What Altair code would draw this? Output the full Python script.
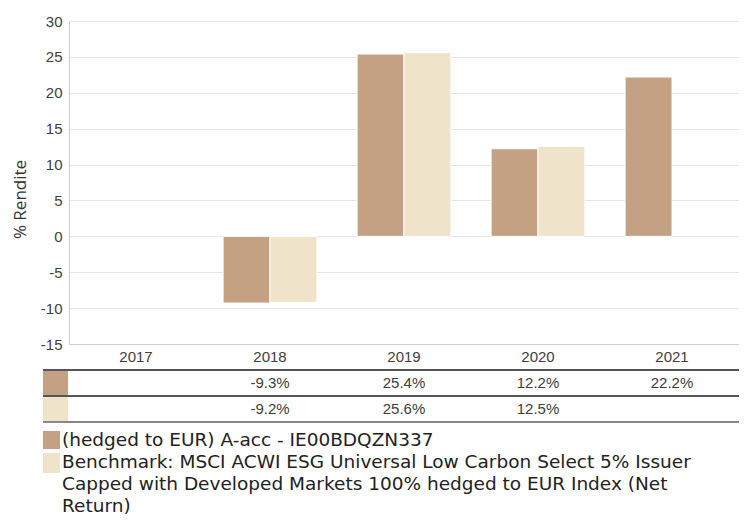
import altair as alt
import pandas as pd

years = ["2017", "2018", "2019", "2020", "2021"]
fund = [None, -9.3, 25.4, 12.2, 22.2]
bench = [None, -9.2, 25.6, 12.5, None]
series_names = ["(hedged to EUR) A-acc - IE00BDQZN337",
                "Benchmark: MSCI ACWI ESG Universal Low Carbon Select 5% Issuer\nCapped with Developed Markets 100% hedged to EUR Index (Net\nReturn)"]
series_keys = ["Fonds", "Benchmark"]
colors = ["#C4A182", "#EFE3C9"]

rows = []
for i, y in enumerate(years):
    for key, vals in zip(series_keys, [fund, bench]):
        v = vals[i]
        if v is not None:
            rows.append({"year": y, "series": key, "value": v, "label": f"{v:.1f}%"})
df = pd.DataFrame(rows)

AX = "Liberation Sans"
LF = "DejaVu Sans"
TXT = "#404040"
W = 670
H = 323

xscale = alt.Scale(domain=years, paddingInner=0.3, paddingOuter=0.15)
cscale = alt.Scale(domain=series_keys, range=colors)

base = alt.Chart(df)

bars = base.mark_bar(stroke="white", strokeWidth=1).encode(
    x=alt.X("year:N", scale=xscale, sort=years,
            axis=alt.Axis(title=None, labelAngle=0, ticks=False, labelFont=AX,
                          labelFontSize=15, labelColor=TXT, labelPadding=5,
                          domainColor="#cccccc", grid=False)),
    xOffset=alt.XOffset("series:N", sort=series_keys, scale=alt.Scale(paddingInner=0, paddingOuter=0)),
    y=alt.Y("value:Q", scale=alt.Scale(domain=[-15, 30], nice=False),
            axis=alt.Axis(values=list(range(-15, 31, 5)), title="% Rendite", ticks=False,
                          labelExpr="toString(datum.value)",
                          labelFont=AX, labelFontSize=15, labelColor=TXT, labelPadding=7,
                          domainColor="#cccccc", gridColor="#e6e6e6",
                          titleFont="Open Sans", titleFontSize=17, titleFontWeight="normal",
                          titleColor="#333333", titleAngle=270, titleX=-49, titleY=178,
                          titleAlign="center", titleBaseline="middle")),
    color=alt.Color("series:N", scale=cscale, legend=None),
)

one = alt.Chart(pd.DataFrame({"k": [0]}))

layers = [bars]
# table lines
for yy, col, w in [(349, "#555555", 2), (375, "#555555", 2), (401, "#888888", 2)]:
    layers.append(one.mark_rule(color=col, strokeWidth=w).encode(
        x=alt.value(-26), x2=alt.value(W), y=alt.value(yy)))
# table swatches
for i, (y1, y2) in enumerate([(350, 374), (376, 400)]):
    layers.append(one.mark_rect(color=colors[i]).encode(
        x=alt.value(-26), x2=alt.value(-1), y=alt.value(y1), y2=alt.value(y2)))
# table values
for key, yy in zip(series_keys, [362, 388]):
    layers.append(base.transform_filter(alt.datum.series == key).mark_text(
        font=AX, fontSize=15, color=TXT, baseline="middle").encode(
        x=alt.X("year:N", scale=xscale, sort=years), y=alt.value(yy), text="label:N"))
# legend
for i, (y1, y2, ty) in enumerate([(410, 428, 419), (432, 452, 441)]):
    layers.append(one.mark_rect(color=colors[i]).encode(
        x=alt.value(-26), x2=alt.value(-9), y=alt.value(y1), y2=alt.value(y2)))
    layers.append(one.mark_text(font=LF, fontSize=18.5, color="#222222", align="left",
                                baseline="middle", lineBreak="\n", lineHeight=22).encode(
        x=alt.value(-7), y=alt.value(ty), text=alt.value(series_names[i])))

chart = alt.layer(*layers).properties(
    width=W, height=H,
    autosize=alt.AutoSizeParams(type="none"),
    padding={"left": 61, "top": 13, "right": 0, "bottom": 173},
).configure_view(stroke=None)

chart.save("out.html", embed_options={"renderer": "svg", "actions": False})
